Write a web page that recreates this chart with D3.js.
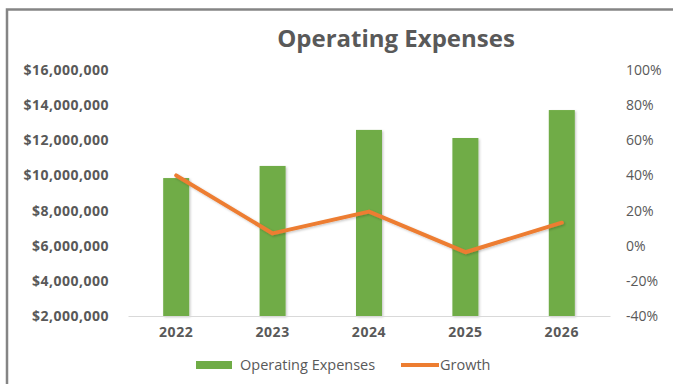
<!DOCTYPE html>
<html>
<head>
<meta charset="utf-8">
<script src="https://cdn.jsdelivr.net/npm/d3@7"></script>
<style>
  html, body { margin: 0; padding: 0; background: #fff; }
  svg { display: block; }
  text { font-family: "Open Sans", "Noto Sans", sans-serif; }
</style>
</head>
<body>
<script>
// Operating expenses by year (USD) and year-over-year growth
const years = ["2022", "2023", "2024", "2025", "2026"];
const expenses = [9850000, 10540000, 12590000, 12130000, 13720000];
const growth = [0.40, 0.07, 0.194, -0.037, 0.131];

const leftTicks = [2000000, 4000000, 6000000, 8000000, 10000000, 12000000, 14000000, 16000000];
const rightTicks = [-0.4, -0.2, 0, 0.2, 0.4, 0.6, 0.8, 1.0];

const seriesNames = ["Operating Expenses", "Growth"];
const chartTitle = "Operating Expenses";

const W = 673, H = 384;
const plot = { left: 128, right: 610, top: 70, bottom: 316 };
const green = "#6fac46", orange = "#ed7d31", textGrey = "#595959";

const svg = d3.select("body").append("svg")
  .attr("width", W).attr("height", H);

const defs = svg.append("defs");
const shadow = defs.append("filter").attr("id", "soft").attr("x", "-20%").attr("y", "-20%")
  .attr("width", "160%").attr("height", "160%");
shadow.append("feDropShadow").attr("dx", 1.2).attr("dy", 1.2).attr("stdDeviation", 1)
  .attr("flood-color", "#000").attr("flood-opacity", 0.22);

// chart frame
svg.append("path")
  .attr("d", `M7,${H} L7,9.5 L${W},9.5`)
  .attr("fill", "none").attr("stroke", "#858585").attr("stroke-width", 2.5);

// title
svg.append("text")
  .attr("x", 396).attr("y", 47)
  .attr("text-anchor", "middle")
  .attr("font-size", 24).attr("font-weight", 700)
  .attr("fill", textGrey)
  .text(chartTitle);

const x = d3.scaleBand().domain(years).range([plot.left, plot.right]).padding(0);
const yL = d3.scaleLinear().domain([2000000, 16000000]).range([plot.bottom, plot.top]);
const yR = d3.scaleLinear().domain([-0.4, 1.0]).range([plot.bottom, plot.top]);
const barW = 26;

const pct = d => d3.format(".0%")(d).replace("\u2212", "-");

// left axis (currency)
const axL = svg.append("g").attr("transform", `translate(109,0)`)
  .call(d3.axisLeft(yL).tickValues(leftTicks).tickSize(0).tickPadding(0).tickFormat(d3.format("$,.0f")));
axL.select(".domain").remove();
axL.selectAll("text").attr("font-size", 14).attr("font-weight", 700).attr("fill", textGrey)
  .attr("letter-spacing", 0.5)
  .attr("font-family", "'Open Sans', sans-serif");

// right axis (percent)
const axR = svg.append("g").attr("transform", `translate(626,0)`)
  .call(d3.axisRight(yR).tickValues(rightTicks).tickSize(0).tickPadding(0).tickFormat(pct));
axR.select(".domain").remove();
axR.selectAll("text").attr("font-size", 14).attr("fill", textGrey)
  .attr("font-family", "'Open Sans', sans-serif");

// bars
svg.append("g").selectAll("rect")
  .data(years.map((y, i) => ({ year: y, value: expenses[i] })))
  .join("rect")
  .attr("x", d => x(d.year) + x.bandwidth() / 2 - barW / 2)
  .attr("y", d => yL(d.value))
  .attr("width", barW)
  .attr("height", d => yL(2000000) - yL(d.value))
  .attr("fill", green)
  .attr("filter", "url(#soft)");

// category axis
const axB = svg.append("g").attr("transform", `translate(0,${plot.bottom})`)
  .call(d3.axisBottom(x).tickSize(0).tickPadding(11));
axB.select(".domain").attr("stroke", "#d9d9d9").attr("stroke-width", 1);
axB.selectAll("text").attr("font-size", 14).attr("font-weight", 700).attr("fill", textGrey)
  .attr("letter-spacing", 0.6)
  .attr("font-family", "'Open Sans', sans-serif");

// growth line
const line = d3.line()
  .x((d, i) => x(years[i]) + x.bandwidth() / 2)
  .y(d => yR(d));
svg.append("path")
  .datum(growth)
  .attr("d", line)
  .attr("fill", "none")
  .attr("stroke", orange)
  .attr("stroke-width", 4)
  .attr("stroke-linejoin", "round")
  .attr("stroke-linecap", "round")
  .attr("filter", "url(#soft)");

// legend
const lg = svg.append("g");
lg.append("rect").attr("x", 196).attr("y", 361).attr("width", 36).attr("height", 8).attr("fill", green);
lg.append("text").attr("x", 240).attr("y", 365).attr("dy", "0.35em")
  .attr("font-size", 14.5).attr("fill", textGrey).text(seriesNames[0]);
lg.append("line").attr("x1", 401).attr("x2", 439).attr("y1", 365).attr("y2", 365)
  .attr("stroke", orange).attr("stroke-width", 4);
lg.append("text").attr("x", 440).attr("y", 365).attr("dy", "0.35em")
  .attr("font-size", 14.5).attr("fill", textGrey).text(seriesNames[1]);
</script>
</body>
</html>
